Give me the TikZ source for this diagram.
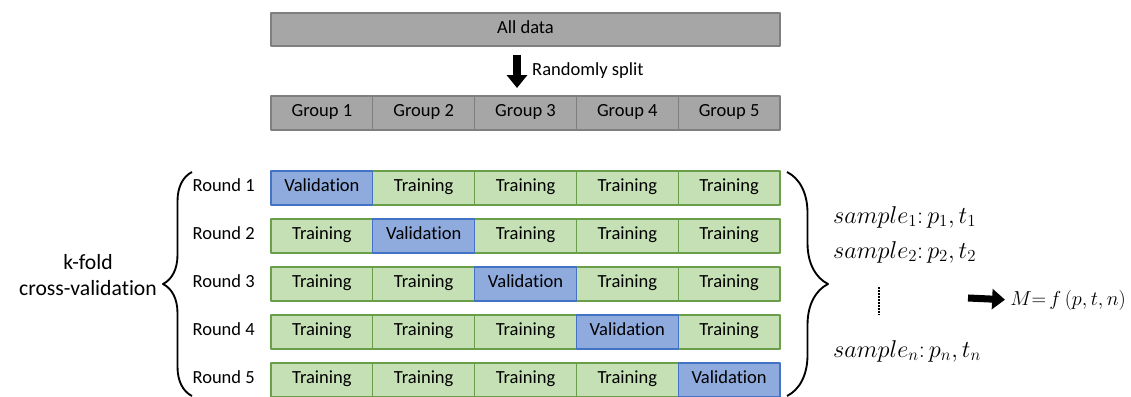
\documentclass[tikz,border=0pt]{standalone}
\usepackage{fontspec}
\setmainfont{Carlito}[Ligatures={NoCommon,NoContextual}]
\usetikzlibrary{arrows.meta,decorations.pathreplacing}
\definecolor{datagray}{HTML}{A6A6A6}
\definecolor{datagrayline}{HTML}{7F7F7F}
\definecolor{trainfill}{HTML}{C5E0B4}
\definecolor{trainline}{HTML}{6A9E48}
\definecolor{validfill}{HTML}{8FAADC}
\definecolor{validline}{HTML}{4472C4}
\tikzset{
  cell/.style={draw,line width=0.9pt,minimum width=3.054cm,minimum height=1.02cm,inner sep=0pt,text height=0.644em,text depth=0pt},
  graycell/.style={cell,fill=datagray,draw=datagrayline},
  traincell/.style={cell,fill=trainfill,draw=trainline},
  validcell/.style={cell,fill=validfill,draw=validline},
  roundlabel/.style={anchor=east,inner sep=0pt,text height=0.644em,text depth=0pt},
  mathtext/.style={anchor=base west,inner sep=0pt,font=\fontsize{21}{25}\selectfont},
  bigarrow/.style={-{Triangle[length=11pt,width=17pt]}},
  bracket/.style={line width=1.6pt,decorate,decoration={brace,amplitude=#1}}
}
\begin{document}
\begin{tikzpicture}[x=0.03cm,y=-0.03cm,font=\fontsize{15.8}{19}\selectfont,line join=round]
	\def\cw{101.8} \def\xl{271}
	\useasboundingbox (0,0) rectangle (1131,397);
	\node[graycell,minimum width=15.27cm,minimum height=0.99cm] (all) at (525.5,29.5) {All data};
	\foreach \c in {1,...,5}
		\node[graycell] (group\c) at ({\xl+\cw*(\c-0.5)},113) {Group \c};
	\coordinate (splittop) at (517,55);
	\coordinate (splitbot) at (517,88);
	\draw[bigarrow,line width=7pt] (splittop) -- (splitbot);
	\node[anchor=west,inner sep=0pt,text height=0.644em,text depth=0pt] (split) at (532,72) {Randomly split};
	\foreach \r in {1,...,5} {
		\node[roundlabel] (round\r) at (255,{140+48*\r}) {Round \r};
		\foreach \c in {1,...,5} {
			\ifnum\c=\r\else
				\node[traincell] (cell\r\c) at ({\xl+\cw*(\c-0.5)},{140+48*\r}) {Training};
			\fi
		}
	}
	\foreach \r in {1,...,5}
		\node[validcell] (cell\r\r) at ({\xl+\cw*(\r-0.5)},{140+48*\r}) {Validation};
	% braces
	\coordinate (lbot) at (192,396); \coordinate (ltop) at (192,172);
	\coordinate (rtop) at (787,172); \coordinate (rbot) at (787,396);
	\draw[bracket=0.87cm] (lbot) -- (ltop);
	\draw[bracket=1.23cm] (rtop) -- (rbot);
	\node[align=center,font=\fontsize{18.5}{21.5}\selectfont] (kfold) at (88,275) {k-fold\\cross-validation};
	\node[mathtext] (s1) at (833,223) {$sample_1\colon p_1, t_1$};
	\node[mathtext] (s2) at (833,258) {$sample_2\colon p_2, t_2$};
	\node[mathtext] (sn) at (833,357) {$sample_n\colon p_n, t_n$};
	\coordinate (dtop) at (879,287); \coordinate (dbot) at (879,315);
	\draw[line width=1.3pt,dash pattern=on 1.3pt off 1.3pt] (dtop) -- (dbot);
	\node[mathtext,font=\fontsize{19}{23}\selectfont] (model) at (1010,305) {$M{=}\,f\,(p, t, n)$};
	\coordinate (marrow) at (968,298);
	\draw[bigarrow,line width=6pt,shorten >=0.15cm] (marrow) -- (model.west);
\end{tikzpicture}
\end{document}
